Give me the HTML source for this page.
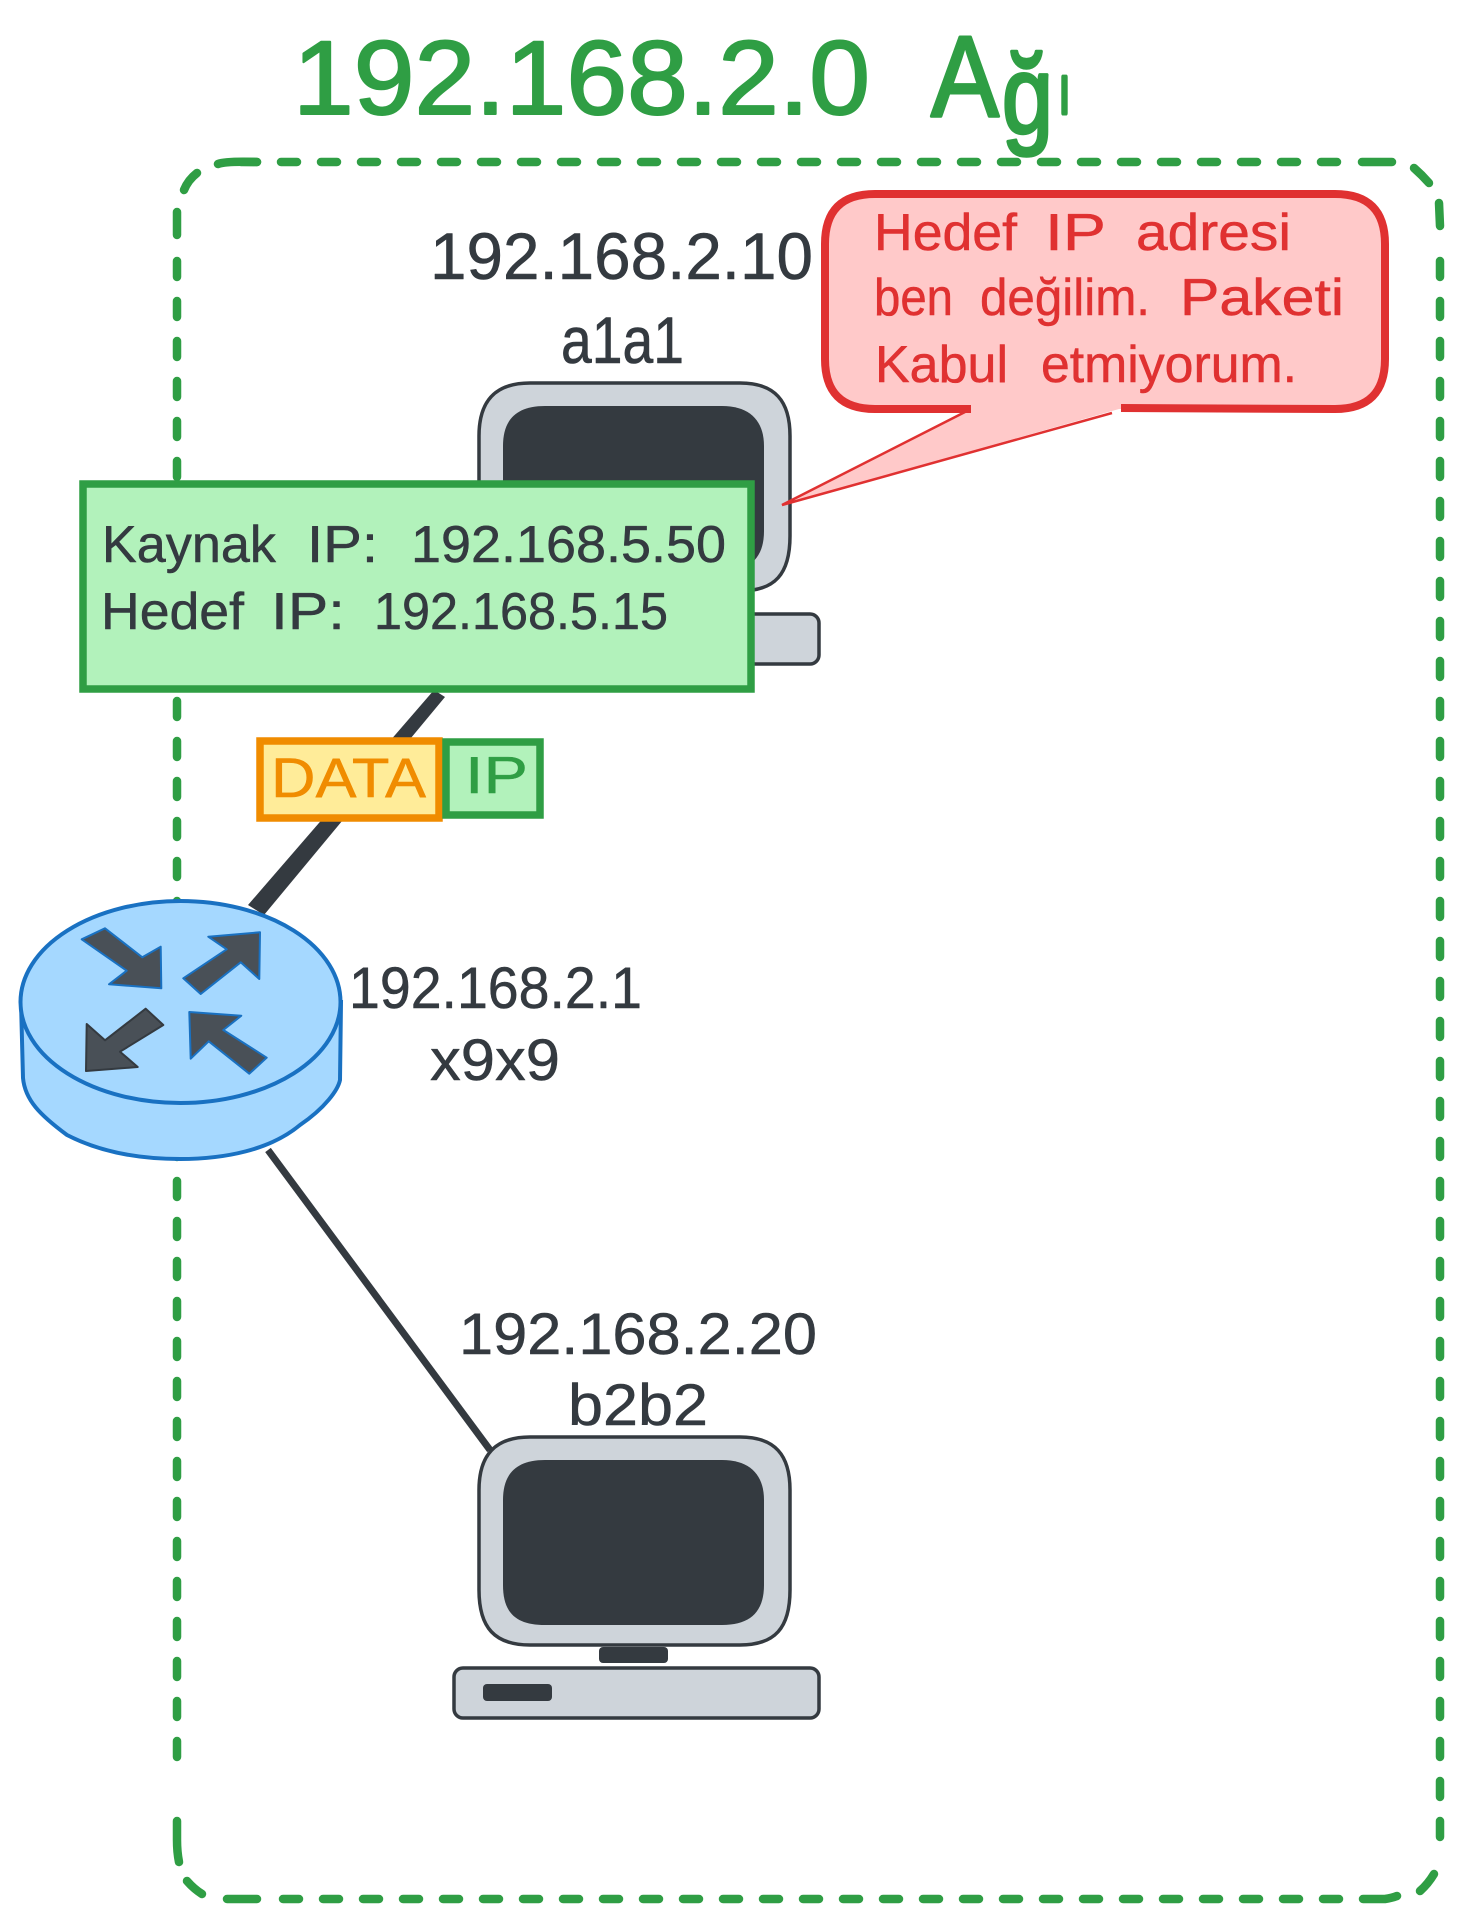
<!DOCTYPE html>
<html lang="tr">
<head>
<meta charset="utf-8">
<title>192.168.2.0 Ağı</title>
<style>
html,body{margin:0;padding:0;background:#fff;width:1460px;height:1920px;overflow:hidden}
svg{display:block}
text{font-family:"Liberation Sans","DejaVu Sans",sans-serif;stroke-linejoin:round;stroke-linecap:round}
.d{fill:#343a40;stroke:#343a40}
.r{fill:#e03131;stroke:#e03131}
.g{fill:#2f9e44;stroke:#2f9e44}
.o{fill:#f08c00;stroke:#f08c00}
</style>
</head>
<body>
<svg width="1460" height="1920" viewBox="0 0 1460 1920" xmlns="http://www.w3.org/2000/svg">
<rect width="1460" height="1920" fill="#fff"/>

<g fill="none" stroke="#2f9e44" stroke-width="8.5" stroke-linecap="round">
  <path d="M241,162 L1345,162" stroke-dasharray="16 24"/>
  <path d="M1362,162 L1392,162"/>
  <path d="M218,164 Q226,161 257,162"/>
  <path d="M184,190 Q188,180 197,173"/>
  <path d="M1414,168 Q1422,175 1429,183"/>
  <path d="M177,212 L177,235"/>
  <path d="M177,261 L177,1780" stroke-dasharray="16 24"/>
  <path d="M177,1821 L177,1840 Q177,1852 179,1862"/>
  <path d="M187,1881 Q194,1889 202,1894"/>
  <path d="M227,1899 L257,1899"/>
  <path d="M283,1899 L1345,1899" stroke-dasharray="16 24"/>
  <path d="M1363,1899 L1385,1899 Q1392,1898 1397,1896"/>
  <path d="M1420,1891 Q1428,1884 1434,1874"/>
  <path d="M1439,203 L1440,226"/>
  <path d="M1440,261 L1440,1850" stroke-dasharray="16 24"/>
</g>

<polygon points="434,690 445,697 264,915 248,905" fill="#343a40"/>
<path d="M268,1150 L490,1450" stroke="#343a40" stroke-width="7" fill="none"/>

<g stroke="#1971c2" stroke-width="4" fill="#a5d8ff">
  <path d="M21,1002 L23,1078 C25,1100 40,1115 67,1135 C100,1152 140,1159 180,1159 C225,1159 270,1150 300,1125 C325,1108 338,1090 340,1080 L341,1002 Z"/>
  <ellipse cx="180.5" cy="1002" rx="160" ry="101"/>
</g>
<g fill="#495057" stroke-width="2" stroke-linejoin="round">
  <polygon stroke="#1971c2" points="81.7,939.3 105,928.3 142.3,957.3 160.7,946.7 161.3,988.3 109,984.3 126.7,970.7"/>
  <polygon stroke="#1971c2" points="208.3,936.7 260,932.3 259.3,979 240.7,962.3 200.7,994 183.3,978.3 226.7,949.3"/>
  <polygon stroke="#343a40" points="145.7,1008.7 163.3,1025 120,1051.7 137.7,1067 86,1071 86.7,1024 105,1040.3"/>
  <polygon stroke="#1971c2" points="189.3,1012 241.3,1015.7 223.3,1030 266.7,1057.7 249.3,1073.7 208.7,1041.3 190.7,1058.7"/>
</g>

<g transform="translate(0,-1054)">
  <path d="M479,1490 C479,1455 495,1437 530,1437 L740,1437 C775,1437 790,1455 790,1490 L790,1590 C790,1628 775,1645 740,1645 L530,1645 C495,1645 479,1628 479,1590 Z" fill="#ced4da" stroke="#343a40" stroke-width="3.5"/>
  <path d="M503,1500 C503,1475 515,1460 545,1460 L722,1460 C750,1460 764,1475 764,1500 L764,1585 C764,1612 750,1625 722,1625 L545,1625 C515,1625 503,1612 503,1585 Z" fill="#343a40"/>
  <rect x="454" y="1668" width="365" height="50" rx="9" fill="#ced4da" stroke="#343a40" stroke-width="3.5"/>
</g>
<g>
  <path d="M479,1490 C479,1455 495,1437 530,1437 L740,1437 C775,1437 790,1455 790,1490 L790,1590 C790,1628 775,1645 740,1645 L530,1645 C495,1645 479,1628 479,1590 Z" fill="#ced4da" stroke="#343a40" stroke-width="3.5"/>
  <path d="M503,1500 C503,1475 515,1460 545,1460 L722,1460 C750,1460 764,1475 764,1500 L764,1585 C764,1612 750,1625 722,1625 L545,1625 C515,1625 503,1612 503,1585 Z" fill="#343a40"/>
  <rect x="599" y="1647" width="69" height="16" rx="4" fill="#343a40"/>
  <rect x="454" y="1668" width="365" height="50" rx="9" fill="#ced4da" stroke="#343a40" stroke-width="3.5"/>
  <rect x="483" y="1684" width="69" height="17" rx="4" fill="#343a40"/>
</g>

<path d="M875,194 L1335,194 Q1385,194 1385,244 L1385,359 Q1385,409 1335,409 L1119,409 L782,505 L971,409 L875,409 Q825,409 825,359 L825,244 Q825,194 875,194 Z" fill="#ffc9c9"/>
<path d="M971,409 L875,409 Q825,409 825,359 L825,244 Q825,194 875,194 L1335,194 Q1385,194 1385,244 L1385,359 Q1385,409 1335,409 L1121,408" fill="none" stroke="#e03131" stroke-width="8"/>
<path d="M965,412 L782,505 L1112,413" fill="none" stroke="#e03131" stroke-width="2.5"/>

<rect x="83" y="484" width="668" height="205" fill="#b2f2bb" stroke="#2f9e44" stroke-width="7.5"/>
<rect x="260" y="741" width="179" height="77" fill="#ffec99" stroke="#f08c00" stroke-width="7.5"/>
<rect x="446" y="742" width="94" height="73" fill="#b2f2bb" stroke="#2f9e44" stroke-width="7.5"/>

<g class="g">
  <text x="293" y="114" font-size="105" stroke-width="2" textLength="577" lengthAdjust="spacingAndGlyphs">192.168.2.0</text>
  <text x="931" y="116" font-size="115" stroke-width="3" textLength="68" lengthAdjust="spacingAndGlyphs">A</text>
  <text x="1002" y="133" font-size="110" stroke-width="3.5" textLength="51" lengthAdjust="spacingAndGlyphs">ğ</text>
  <text x="1059" y="113" font-size="68" stroke-width="5" textLength="11" lengthAdjust="spacingAndGlyphs">ı</text>
</g>

<g class="d" font-size="66" stroke-width="0.6">
  <text x="430" y="279" textLength="383" lengthAdjust="spacingAndGlyphs">192.168.2.10</text>
  <text x="561" y="363" textLength="123" lengthAdjust="spacingAndGlyphs">a1a1</text>
</g>

<g class="r" font-size="52" stroke-width="0.5">
  <text x="874" y="250" textLength="143" lengthAdjust="spacingAndGlyphs">Hedef</text>
  <text x="1045" y="250" textLength="61" lengthAdjust="spacingAndGlyphs">IP</text>
  <text x="1136" y="250" textLength="155" lengthAdjust="spacingAndGlyphs">adresi</text>
  <text x="874" y="315" textLength="79" lengthAdjust="spacingAndGlyphs">ben</text>
  <text x="980" y="315" textLength="170" lengthAdjust="spacingAndGlyphs">değilim.</text>
  <text x="1180" y="315" textLength="164" lengthAdjust="spacingAndGlyphs">Paketi</text>
  <text x="875" y="382" textLength="133" lengthAdjust="spacingAndGlyphs">Kabul</text>
  <text x="1041" y="382" textLength="256" lengthAdjust="spacingAndGlyphs">etmiyorum.</text>
</g>

<g class="d" font-size="52" stroke-width="0.5">
  <text x="102" y="562" textLength="174" lengthAdjust="spacingAndGlyphs">Kaynak</text>
  <text x="307" y="562" textLength="71" lengthAdjust="spacingAndGlyphs">IP:</text>
  <text x="411" y="562" textLength="315" lengthAdjust="spacingAndGlyphs">192.168.5.50</text>
  <text x="101" y="629" textLength="143" lengthAdjust="spacingAndGlyphs">Hedef</text>
  <text x="271" y="629" textLength="74" lengthAdjust="spacingAndGlyphs">IP:</text>
  <text x="374" y="629" textLength="294" lengthAdjust="spacingAndGlyphs">192.168.5.15</text>
</g>

<text class="o" x="271" y="797" font-size="56" stroke-width="0.5" textLength="155" lengthAdjust="spacingAndGlyphs">DATA</text>
<text class="g" x="465" y="793" font-size="52" stroke-width="0.5" textLength="63" lengthAdjust="spacingAndGlyphs">IP</text>

<g class="d" font-size="58" stroke-width="0.5">
  <text x="349" y="1008" textLength="293" lengthAdjust="spacingAndGlyphs">192.168.2.1</text>
  <text x="430" y="1080" textLength="130" lengthAdjust="spacingAndGlyphs">x9x9</text>
  <text x="459" y="1354" textLength="358" lengthAdjust="spacingAndGlyphs">192.168.2.20</text>
  <text x="568" y="1425" textLength="140" lengthAdjust="spacingAndGlyphs">b2b2</text>
</g>
</svg>
</body>
</html>
